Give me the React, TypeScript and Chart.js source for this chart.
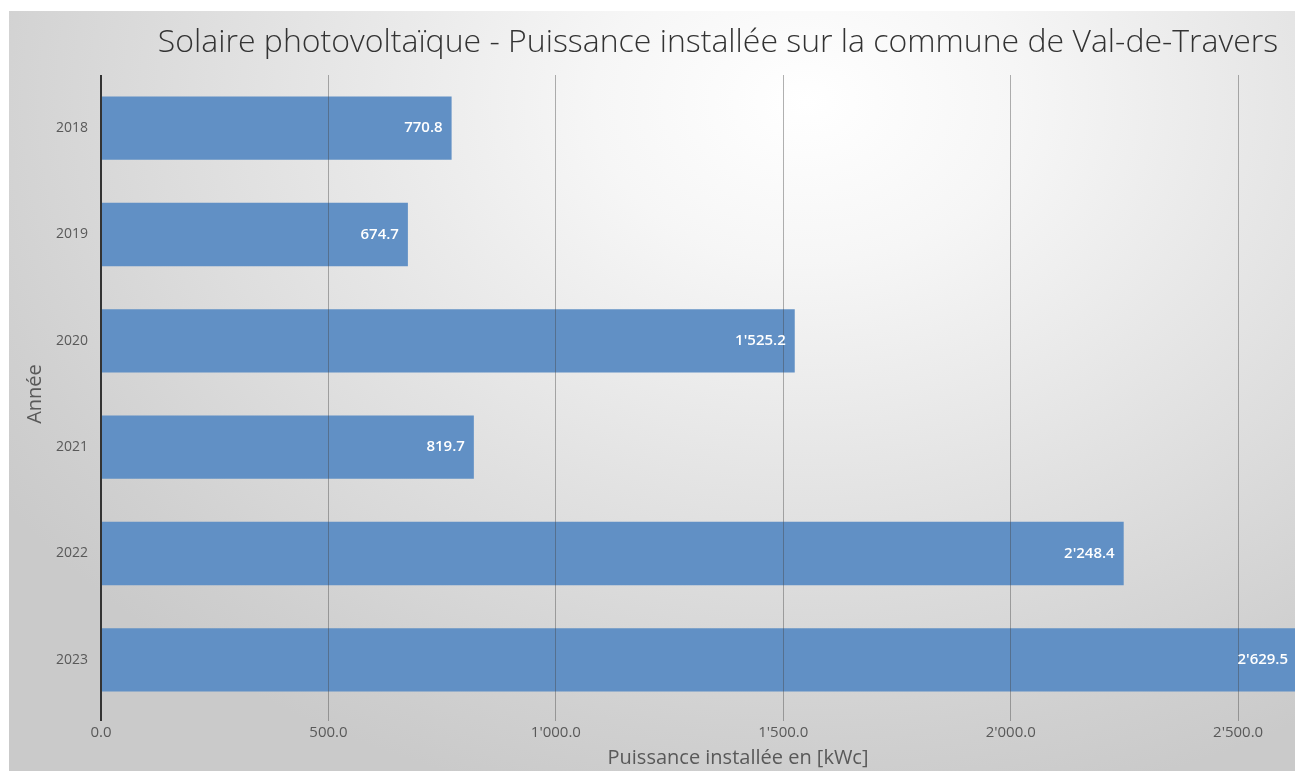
import React, { useEffect, useRef } from "react";
import { Chart, registerables } from "chart.js";

Chart.register(...registerables);

const categories = ["2018", "2019", "2020", "2021", "2022", "2023"];
const values = [770.8, 674.7, 1525.2, 819.7, 2248.4, 2629.5];
const xTickValues = [0, 500, 1000, 1500, 2000, 2500];
const xMax = 2625;
const chartTitle = "Solaire photovoltaïque - Puissance installée sur la commune de Val-de-Travers";
const xTitle = "Puissance installée en [kWc]";
const yTitle = "Année";

const FONT = "'Open Sans', 'Noto Sans', sans-serif";

function fmt(v: number): string {
  const s = v.toFixed(1);
  const [i, d] = s.split(".");
  return i.replace(/\B(?=(\d{3})+(?!\d))/g, "'") + "." + d;
}

const overlayPlugin = {
  id: "overlay",
  afterDraw(chart: any) {
    const ctx = chart.ctx as CanvasRenderingContext2D;
    const meta = chart.getDatasetMeta(0);
    ctx.save();
    // value labels
    ctx.font = `600 15px ${FONT}`;
    ctx.fillStyle = "#ffffff";
    ctx.textAlign = "right";
    ctx.textBaseline = "middle";
    meta.data.forEach((bar: any, i: number) => {
      ctx.fillText(fmt(values[i]), bar.x - 9, bar.y);
    });
    // main title
    ctx.font = `300 32px ${FONT}`;
    ctx.fillStyle = "#333333";
    ctx.textAlign = "center";
    ctx.textBaseline = "alphabetic";
    ctx.fillText(chartTitle, 709, 41);
    // x axis title
    ctx.font = `400 20px ${FONT}`;
    ctx.fillStyle = "#595959";
    ctx.fillText(xTitle, 729, 753);
    ctx.restore();
  },
};

export default function App() {
  const ref = useRef<HTMLCanvasElement | null>(null);

  useEffect(() => {
    if (!ref.current) return;
    const chart = new Chart(ref.current, {
      type: "bar",
      data: {
        labels: categories,
        datasets: [
          {
            data: values,
            backgroundColor: "#6190c5",
            borderWidth: 0,
            categoryPercentage: 1,
            barPercentage: 0.595,
          },
        ],
      },
      options: {
        indexAxis: "y",
        animation: false,
        responsive: true,
        maintainAspectRatio: false,
        layout: { padding: { top: 64, left: 0, right: 0, bottom: 0 } },
        plugins: {
          legend: { display: false },
          title: { display: false },
          tooltip: { enabled: false },
        },
        scales: {
          x: {
            type: "linear",
            min: 0,
            max: xMax,
            afterBuildTicks: (scale: any) => {
              scale.ticks = xTickValues.map((v) => ({ value: v }));
            },
            afterFit: (scale: any) => {
              scale.height = 58;
            },
            border: { display: false },
            grid: {
              z: 1,
              drawTicks: true,
              tickLength: 8,
              color: (c: any) => (c.index === 0 ? "#333333" : "rgba(70,70,70,0.42)"),
              lineWidth: (c: any) => (c.index === 0 ? 2 : 1),
            },
            ticks: {
              padding: 3,
              color: "#595959",
              font: { size: 15, family: FONT },
              callback: (v: any) => fmt(Number(v)),
              maxRotation: 0,
              autoSkip: false,
            },
          },
          y: {
            afterFit: (scale: any) => {
              scale.width = 92;
            },
            border: { display: false },
            grid: { display: false, drawTicks: false },
            ticks: {
              padding: 13,
              color: "#595959",
              font: { size: 14, family: FONT },
            },
            title: {
              display: true,
              text: yTitle,
              color: "#595959",
              font: { size: 20, family: FONT },
              padding: { top: 14, bottom: 0 },
            },
          },
        },
      },
      plugins: [overlayPlugin],
    });
    return () => chart.destroy();
  }, []);

  return (
    <div
      style={{
        position: "absolute",
        left: 9,
        top: 11,
        width: 1286,
        height: 760,
        overflow: "hidden",
        background:
          "radial-gradient(ellipse 75% 95% at 62% 12%, #ffffff 0%, #f6f6f6 22%, #e3e3e3 55%, #d0d0d0 88%, #cacaca 100%)",
      }}
    >
      <canvas ref={ref} />
    </div>
  );
}
